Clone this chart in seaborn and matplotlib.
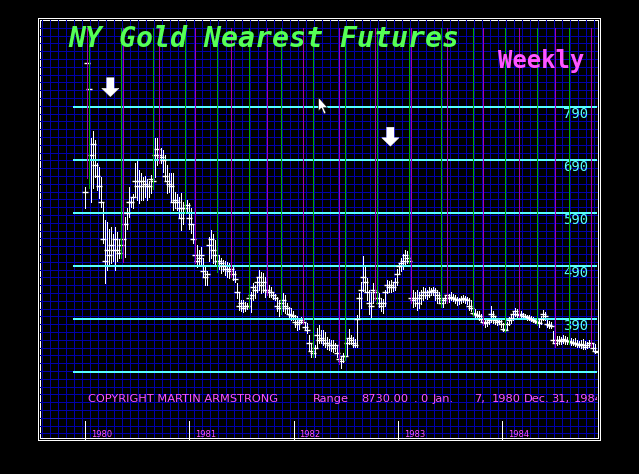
import numpy as np
import pandas as pd
import matplotlib
matplotlib.use("Agg")
import matplotlib.pyplot as plt
from matplotlib.patches import Rectangle, Polygon
import seaborn as sns

# ---------------- data (weekly, from Jan 7 1980) ----------------
highs = [
    639, 873, 824, 731, 745, 728, 684, 677, 658, 609,
    576, 573, 560, 564, 550, 564, 555, 540, 550, 555,
    582, 600, 639, 620, 625, 684, 690, 671, 665, 658,
    660, 655, 650, 662, 662, 731, 731, 712, 712, 708,
    700, 680, 665, 665, 665, 630, 625, 620, 628, 610,
    620, 615, 609, 600, 570, 533, 530, 520, 525, 505,
    488, 480, 545, 558, 550, 539, 520, 511, 505, 501,
    500, 497, 495, 492, 490, 480, 458, 440, 426, 425,
    422, 420, 439, 440, 458, 455, 470, 482, 478, 477,
    470, 460, 455, 450, 440, 438, 431, 425, 428, 439,
    435, 420, 413, 410, 405, 398, 395, 390, 394, 392,
    385, 382, 360, 345, 330, 341, 373, 379, 370, 369,
    365, 356, 352, 350, 350, 345, 340, 326, 320, 326,
    325, 355, 371, 360, 356, 352, 397, 439, 460, 509,
    490, 468, 445, 440, 458, 455, 445, 439, 430, 428,
    445, 464, 462, 464, 460, 468, 485, 494, 505, 513,
    520, 518, 515, 450, 445, 440, 445, 440, 445, 450,
    448, 445, 450, 448, 450, 448, 445, 440, 430, 428,
    435, 439, 437, 440, 438, 436, 431, 430, 433, 435,
    434, 432, 430, 425, 411, 408, 405, 405, 400, 392,
    390, 388, 392, 415, 405, 395, 390, 392, 388, 382,
    378, 385, 393, 397, 405, 411, 408, 405, 406, 401,
    400, 398, 397, 396, 394, 392, 394, 390, 395, 407,
    403, 390, 386, 384, 367, 360, 358, 358, 356, 360,
    358, 356, 355, 354, 352, 354, 350, 348, 350, 352,
    348, 346, 350, 352, 345, 342, 338,
]
lows = [
    599, 656, 637, 610, 637, 658, 633, 618, 601, 533,
    458, 483, 490, 496, 500, 483, 500, 505, 505, 497,
    507, 560, 582, 601, 600, 620, 615, 609, 614, 614,
    620, 615, 620, 628, 635, 658, 680, 684, 684, 667,
    650, 628, 630, 610, 596, 600, 595, 580, 558, 570,
    590, 590, 560, 552, 533, 495, 488, 490, 490, 470,
    454, 455, 500, 505, 496, 490, 479, 485, 477, 480,
    473, 470, 467, 470, 464, 460, 430, 407, 405, 403,
    405, 408, 410, 403, 426, 430, 440, 445, 439, 440,
    431, 435, 431, 432, 428, 426, 405, 396, 400, 405,
    401, 400, 392, 388, 388, 375, 369, 372, 382, 380,
    370, 363, 330, 318, 318, 318, 337, 345, 345, 340,
    337, 333, 331, 330, 328, 330, 318, 305, 297, 309,
    312, 320, 343, 343, 337, 337, 337, 394, 410, 443,
    440, 426, 400, 394, 420, 425, 420, 413, 405, 401,
    415, 439, 440, 440, 443, 445, 455, 477, 480, 485,
    492, 495, 495, 420, 413, 415, 407, 410, 418, 426,
    430, 428, 432, 435, 435, 425, 420, 420, 413, 413,
    420, 420, 422, 425, 424, 420, 416, 418, 420, 422,
    420, 418, 407, 405, 396, 394, 390, 388, 385, 378,
    375, 377, 380, 385, 382, 380, 378, 380, 375, 367,
    365, 370, 378, 383, 388, 395, 392, 393, 392, 390,
    390, 388, 388, 386, 384, 382, 378, 375, 380, 388,
    388, 375, 373, 373, 345, 337, 340, 343, 343, 345,
    343, 342, 342, 341, 340, 339, 338, 337, 336, 334,
    333, 335, 337, 338, 330, 326, 324,
]
closes = [
    630, 873, 824, 700, 720, 680, 660, 640, 610, 540,
    500, 520, 510, 530, 520, 540, 520, 515, 530, 540,
    570, 590, 610, 610, 620, 650, 640, 650, 640, 650,
    645, 640, 640, 655, 650, 700, 710, 700, 695, 690,
    660, 650, 645, 640, 610, 615, 610, 600, 580, 600,
    600, 605, 580, 570, 540, 510, 500, 505, 510, 480,
    470, 475, 530, 540, 520, 510, 500, 500, 495, 490,
    485, 485, 480, 485, 475, 465, 440, 415, 420, 410,
    415, 415, 430, 435, 450, 445, 460, 470, 455, 460,
    445, 445, 440, 440, 435, 430, 415, 410, 420, 425,
    415, 410, 400, 398, 395, 385, 380, 385, 388, 385,
    375, 370, 345, 330, 325, 335, 360, 350, 355, 350,
    345, 345, 340, 340, 335, 340, 325, 315, 310, 320,
    320, 345, 355, 350, 345, 340, 390, 430, 445, 470,
    460, 440, 420, 415, 445, 440, 430, 420, 415, 420,
    440, 455, 450, 455, 450, 460, 475, 490, 495, 500,
    510, 505, 500, 430, 425, 430, 420, 430, 435, 440,
    440, 435, 440, 442, 445, 440, 435, 430, 420, 425,
    430, 435, 430, 432, 430, 428, 425, 425, 428, 430,
    428, 425, 415, 410, 402, 400, 398, 395, 390, 385,
    382, 384, 388, 400, 395, 388, 385, 386, 380, 372,
    370, 380, 388, 392, 400, 405, 400, 398, 400, 396,
    395, 393, 392, 390, 388, 387, 385, 382, 390, 400,
    395, 380, 378, 376, 350, 345, 350, 350, 348, 352,
    350, 348, 348, 346, 345, 344, 342, 341, 342, 340,
    338, 340, 344, 345, 335, 330, 328,
]
assert len(highs) == len(lows) == len(closes)

levels = [790, 690, 590, 490, 390, 290]
level_labels = ["790", "690", "590", "490", "390"]
years = ["1980", "1981", "1982", "1983", "1984"]
green_weeks = [2, 18, 34, 50, 66, 82, 98, 114, 130, 146, 162, 178, 194, 210, 226, 242]
magenta_weeks = [1, 19, 37, 55, 73, 91, 109, 127, 145, 163, 181, 199, 217, 235, 253]
title = "NY Gold Nearest Futures"
period = "Weekly"
footer = [("COPYRIGHT MARTIN ARMSTRONG", 88), ("Range", 313), ("8730.00", 361),
          (".", 414), ("0", 420), ("Jan.", 433), ("7,", 474), ("1980", 492),
          ("Dec.", 524), ("31,", 551), ("1984", 574)]

# ---------------- style ----------------
sns.set_theme(style="dark", rc={"axes.facecolor": "black", "figure.facecolor": "black"})
plt.rcParams["font.family"] = ["DejaVu Sans"]

W, H = 639, 474
fig = plt.figure(figsize=(W / 100, H / 100), dpi=100)
fig.patch.set_facecolor("black")

NAVY = "#0000aa"
GREEN = "#00aa00"
MAG = "#aa00aa"
CYAN = "#55ffff"
LMAG = "#ff55ff"
LGREEN = "#55ff55"
PX = 0.72  # one pixel in points

# background layer in pixel coordinates
bg = fig.add_axes([0, 0, 1, 1], zorder=0)
bg.set_xlim(0, W)
bg.set_ylim(H, 0)
bg.axis("off")

gx = np.arange(41.5, 597, 8)
gy = np.floor(19.5 + 7.8 * np.arange(1, 60)) + 0.5
gy = gy[gy < 437]
bg.vlines(gx, 20, 437, color=NAVY, lw=PX, antialiased=False)
bg.hlines(gy, 40, 597, color=NAVY, lw=PX, antialiased=False)
bg.add_patch(Rectangle((37.5, 17.5), 562, 422, fill=False, ec="white", lw=PX, antialiased=False))
bg.add_patch(Rectangle((39.5, 19.5), 558, 418, fill=False, ec="white", lw=PX, antialiased=False))

# data axes
L, R, T, B = 41, 597, 21, 436
X0, Y0, SC = 85, 160, 0.53
ax = fig.add_axes([L / W, 1 - B / H, (R - L) / W, (B - T) / H], zorder=1)
ax.patch.set_alpha(0)
ax.set_xlim((L - X0) / 2, (R - X0) / 2)
ax.set_ylim(690 - (B - Y0) / SC, 690 + (Y0 - T) / SC)
ax.axis("off")

weeks = np.arange(len(highs))
df = pd.DataFrame({
    "week": np.concatenate([weeks, weeks]),
    "price": np.concatenate([lows, highs]),
    "bar": np.concatenate([weeks, weeks]),
})
sns.lineplot(data=df, x="week", y="price", units="bar", estimator=None,
             color="white", lw=PX, antialiased=False, ax=ax, legend=False)
sns.scatterplot(x=weeks, y=closes, marker="_", s=16, color="white",
                linewidth=1.0, ax=ax, legend=False, zorder=2.5)

# level lines and labels
ax.hlines(levels, -6, ax.get_xlim()[1], color=CYAN, lw=2 * PX, antialiased=False, zorder=2)
for lv, lab in zip(levels, level_labels):
    ax.annotate(lab, xy=(245.3, lv), xytext=(0, -7.9), textcoords="offset points",
                ha="center", va="baseline", color=CYAN,
                family="DejaVu Sans Mono", fontsize=10)

# cycle lines
top_price = 690 + (Y0 - 28) / SC
ax.vlines(green_weeks, [lows[w] for w in green_weeks], top_price, color=GREEN, lw=PX,
          antialiased=False, zorder=3)
ax.vlines(magenta_weeks, [lows[w] for w in magenta_weeks], top_price, color=MAG, lw=PX,
          antialiased=False, zorder=3)

# year ticks and labels
start = pd.Timestamp("1980-01-07")
year_weeks = [(pd.Timestamp(f"{y}-01-01") - start).days / 7 + 0.7 for y in years]
ax.vlines(year_weeks, -0.008, 0.036, transform=ax.get_xaxis_transform(),
          color="white", lw=PX, antialiased=False, clip_on=False)
for yw, y in zip(year_weeks, years):
    ax.annotate(y, xy=(yw, 0), xycoords=("data", "axes fraction"), xytext=(4.3, -0.7),
                textcoords="offset points", ha="left", va="baseline",
                color=LMAG, fontsize=6.0, annotation_clip=False)

# texts
ax.text(68, 46.5, title, transform=bg.transData, color=LGREEN, family="DejaVu Sans Mono",
        fontweight="bold", fontstyle="italic", fontsize=20.3, ha="left", va="baseline",
        zorder=5, clip_on=False)
ax.text(498, 68.3, period, transform=bg.transData, color=LMAG, family="DejaVu Sans Mono",
        fontweight="bold", fontsize=17.2, ha="left", va="baseline", zorder=5, clip_on=False)
for s, xp in footer:
    ax.text(xp, 402, s, transform=bg.transData, color=LMAG, fontsize=8.2,
            ha="left", va="baseline", zorder=5, clip_on=True)

# arrows and cursor
arrow = np.array([(106.7, 77.7), (114, 77.7), (114, 88.3), (119, 88.3),
                  (110.4, 96.7), (101.7, 88.3), (106.7, 88.3)])
for dx, dy in [(0, 0), (280, 49.5)]:
    ax.add_patch(Polygon(arrow + [dx, dy], closed=True, fc="white", ec="white", lw=0.3,
                         transform=bg.transData, zorder=5, clip_on=False))
cursor = np.array([(318.5, 97.5), (318.5, 111), (321.5, 108), (324, 114), (326, 113),
                   (323.5, 107.5), (327.5, 107.5)])
ax.add_patch(Polygon(cursor, closed=True, fc="white", ec="black", lw=0.4,
                     transform=bg.transData, zorder=5, clip_on=False))

fig.savefig("out.png", dpi=100, facecolor="black")
